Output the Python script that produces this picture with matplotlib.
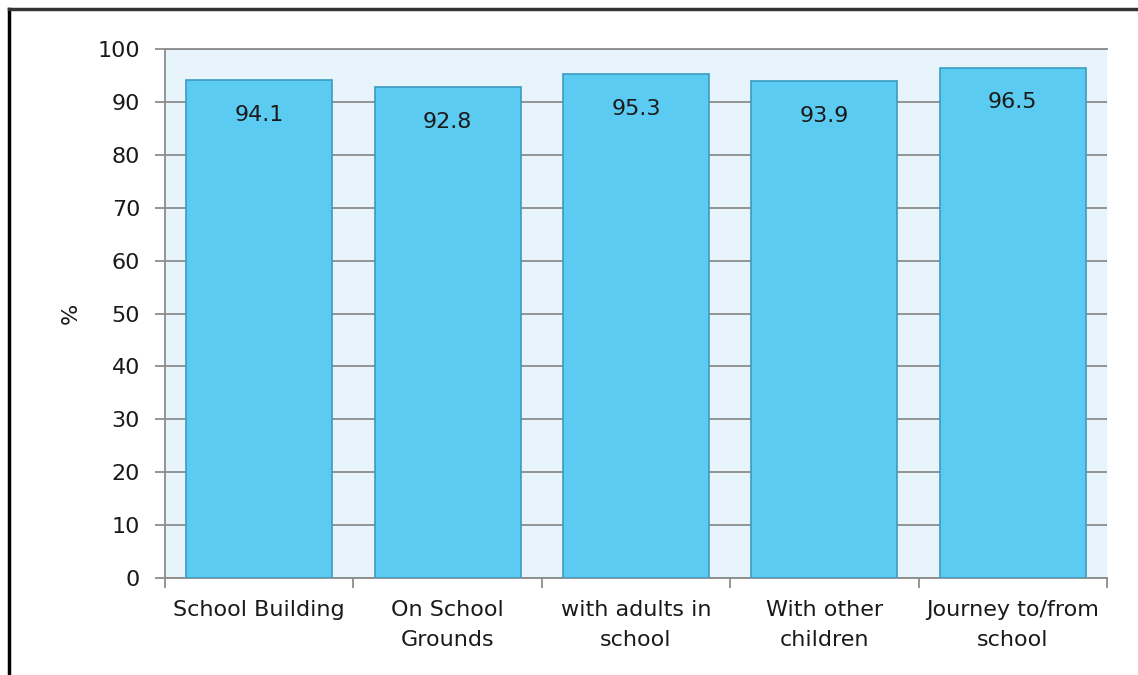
import matplotlib.pyplot as plt
from matplotlib.lines import Line2D

categories = ['School Building', 'On School\nGrounds', 'with adults in\nschool',
              'With other\nchildren', 'Journey to/from\nschool']
values = [94.1, 92.8, 95.3, 93.9, 96.5]
yticks = [0, 10, 20, 30, 40, 50, 60, 70, 80, 90, 100]

plt.rcParams['font.family'] = ['DejaVu Sans']
fs = 16

fig = plt.figure(figsize=(11.38, 6.75), dpi=100)
ax = fig.add_axes([165 / 1138, 1 - 578 / 675, (1107 - 165) / 1138, (578 - 49) / 675])
ax.set_facecolor('#e8f4fc')

x = range(len(categories))
ax.bar(x, values, width=0.775, color='#5ccbf1', edgecolor='#3d9cc0',
       linewidth=1.2, zorder=3)
for i, v in enumerate(values):
    ax.text(i, v - 6.6, f'{v}', ha='center', va='center', fontsize=fs,
            color='#1a1a1a', zorder=4)

ax.set_xlim(-0.5, len(categories) - 0.5)
ax.set_ylim(0, 100)
ax.set_yticks(yticks)
ax.set_yticklabels([str(t) for t in yticks], fontsize=fs, color='#1a1a1a')
ax.yaxis.grid(True, color='#8c8c8c', linewidth=1.3, zorder=0)
ax.set_axisbelow(True)

ax.set_xticks([i - 0.5 for i in range(len(categories) + 1)], minor=False)
ax.set_xticklabels([])
ax.set_xticks(list(x), minor=True)
ax.set_xticklabels(categories, minor=True, fontsize=fs, color='#1a1a1a',
                   linespacing=1.6)
ax.tick_params(axis='x', which='minor', length=0, pad=16)
ax.tick_params(axis='x', which='major', length=7, color='#8c8c8c', width=1.3)
ax.tick_params(axis='y', length=7, color='#8c8c8c', width=1.3, pad=11)

for s in ['right']:
    ax.spines[s].set_visible(False)
for s in ['left', 'bottom', 'top']:
    ax.spines[s].set_color('#8c8c8c')
    ax.spines[s].set_linewidth(1.3)

ax.set_ylabel('%', fontsize=fs, color='#1a1a1a', labelpad=12)

# page frame
fig.add_artist(Line2D([9 / 1138, 9 / 1138], [0, 1 - 9 / 675], color='black',
                      linewidth=2.5, transform=fig.transFigure))
fig.add_artist(Line2D([9 / 1138, 1], [1 - 9 / 675, 1 - 9 / 675], color='#333333',
                      linewidth=2.5, transform=fig.transFigure))

fig.savefig('out.png', dpi=100)
